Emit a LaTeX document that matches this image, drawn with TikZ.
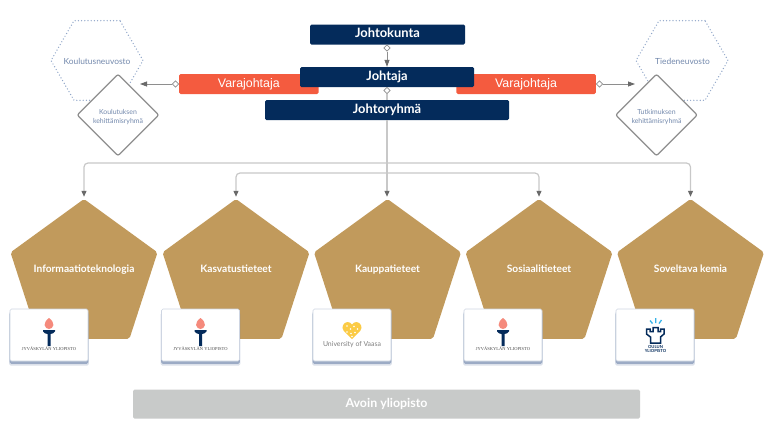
\documentclass[tikz,border=0pt]{standalone}
\usepackage{fontspec}
\setmainfont{Lato}
\newfontfamily\varafont{Liberation Sans}
\newfontfamily\logofont{Liberation Serif}
\usetikzlibrary{shapes.geometric,arrows.meta,shadows}
\definecolor{navy}{HTML}{042B5B}
\definecolor{coral}{HTML}{F45B3F}
\definecolor{tan}{HTML}{C19A5C}
\definecolor{slate}{HTML}{7288AC}
\definecolor{dotc}{HTML}{8FA5C8}
\definecolor{edge}{HTML}{8E8E8E}
\definecolor{wire}{HTML}{C8C8C8}
\definecolor{tipc}{HTML}{6A6A6A}
\definecolor{band}{HTML}{C8CAC9}
\definecolor{flame}{HTML}{F58A7C}
\definecolor{gold}{HTML}{FBCB45}
\definecolor{cyanray}{HTML}{35B2E8}
\tikzset{
  x=1pt,y=-1pt,
  navybox/.style={draw=none,fill=navy,rounded corners=1.5pt,text=white,inner sep=0pt,text height=9pt,text depth=2.5pt,font=\fontsize{12.9}{14}\selectfont\bfseries},
  varabox/.style={fill=coral,rounded corners=1.5pt,text=white,inner sep=0pt,minimum width=139.5pt,minimum height=20pt,font=\varafont\fontsize{12.4}{14}\selectfont},
  hexa/.style={regular polygon,regular polygon sides=6,minimum size=92pt,inner sep=0pt,draw=dotc,line width=1.4pt,line cap=round,dash pattern=on 0pt off 3.2pt},
  hextext/.style={text=slate,inner sep=0pt,font=\fontsize{8.4}{10}\selectfont},
  rhomb/.style={diamond,aspect=1,minimum width=82pt,minimum height=82pt,inner sep=0pt,draw=edge,fill=white,line width=1.2pt,rounded corners=2pt},
  rhombtext/.style={text=slate,inner sep=0pt,align=center,font=\fontsize{6.9}{8.3}\selectfont},
  pent/.style={regular polygon,regular polygon sides=5,minimum size=154.6pt,inner sep=0pt,fill=tan,rounded corners=2pt},
  penttext/.style={text=white,inner sep=0pt,text height=7pt,text depth=2.2pt,font=\fontsize{10.2}{12}\selectfont\bfseries},
  card/.style={fill=white,draw=slate!35,line width=.6pt,rounded corners=1.5pt,minimum width=78pt,minimum height=52pt,inner sep=0pt,
    general shadow={shadow xshift=0pt,shadow yshift=-4pt,shadow scale=1.02,fill=slate,opacity=.25},
    general shadow={shadow xshift=0pt,shadow yshift=-2.5pt,shadow scale=1.01,fill=slate,opacity=.6}},
  tick/.style={diamond,aspect=1,minimum size=6.5pt,inner sep=0pt,draw=edge,fill=white,line width=.8pt},
  hwire/.style={draw=edge,line width=.8pt,-{Triangle[length=7pt,width=5pt,fill=tipc,color=tipc]}},
  vwire/.style={draw=wire,line width=1.2pt,rounded corners=4pt,-{Triangle[length=6pt,width=5pt,fill=tipc,color=tipc]}},
  plainwire/.style={draw=wire,line width=1.2pt},
}
\newcommand{\jyulogo}[1]{%
  \begin{scope}[shift={(#1)}]
    \fill[flame] (0,-17) .. controls (3,-15) and (4.6,-12) .. (4.4,-10) .. controls (4.2,-7.5) and (2,-6) .. (0,-6) .. controls (-2,-6) and (-4.2,-7.5) .. (-4.4,-10) .. controls (-4.6,-12) and (-3,-15) .. (0,-17) -- cycle;
    \fill[navy] (-6,-5) -- (6,-5) -- (6,-3.6) .. controls (5,-2) and (3,-1) .. (1.5,-1) -- (1.5,11) -- (-1.5,11) -- (-1.5,-1) .. controls (-3,-1) and (-5,-2) .. (-6,-3.6) -- cycle;
    \node[inner sep=0pt,text=black!70,font=\logofont\fontsize{4.5}{5}\selectfont] at (0,14) {JYVÄSKYLÄN YLIOPISTO};
  \end{scope}}
\begin{document}
\begin{tikzpicture}
\useasboundingbox (0,0) rectangle (768,432);
% hexagons and rhombi
\node[hexa] (kn) at (97,60.5) {};
\node[hexa] (tn) at (682,60.5) {};
\node[hextext] (knt) at (97,61) {Koulutusneuvosto};
\node[hextext] (tnt) at (682.5,61) {Tiedeneuvosto};
\node[rhomb] (kk) at (118,115) {};
\node[rhomb] (tk) at (656.5,115) {};
\node[rhombtext] (kkt) at (118,117) {Koulutuksen\\kehittämisryhmä};
\node[rhombtext] (tkt) at (656.5,117) {Tutkimuksen\\kehittämisryhmä};
% head boxes
\node[varabox] (vl) at (248.8,84) {Varajohtaja};
\node[varabox] (vr) at (526,84) {Varajohtaja};
\node[navybox,minimum width=155pt,minimum height=20pt] (jk) at (387.5,34.5) {Johtokunta};
\node[navybox,minimum width=174pt,minimum height=20pt] (jt) at (387,77) {Johtaja};
\node[navybox,minimum width=244pt,minimum height=20pt] (jr) at (387,110) {Johtoryhmä};
% pentagons
\node[pent] (p1) at (84,276.3) {};
\node[pent] (p2) at (236,276.3) {};
\node[pent] (p3) at (387.5,276.3) {};
\node[pent] (p4) at (539,276.3) {};
\node[pent] (p5) at (690.5,276.3) {};
\node[penttext] (t1) at (84,270) {Informaatioteknologia};
\node[penttext] (t2) at (236,270) {Kasvatustieteet};
\node[penttext] (t3) at (387.5,270) {Kauppatieteet};
\node[penttext] (t4) at (539,270) {Sosiaalitieteet};
\node[penttext] (t5) at (690.5,270) {Soveltava kemia};
% cards
\node[card] (c1) at (49,335) {};
\node[card] (c2) at (200.5,335) {};
\node[card] (c3) at (352,335) {};
\node[card] (c4) at (503,335) {};
\node[card] (c5) at (655,335) {};
\jyulogo{c1}
\jyulogo{c2}
\jyulogo{c4}
% Vaasa logo
\begin{scope}[shift={(c3)}]
  \fill[gold] (0,4) -- (-8.2,-4) .. controls (-11.5,-8) and (-8,-13) .. (-4.5,-13) .. controls (-2.5,-13) and (-1,-12) .. (0,-10.5) .. controls (1,-12) and (2.5,-13) .. (4.5,-13) .. controls (8,-13) and (11.5,-8) .. (8.2,-4) -- cycle;
  \foreach \a/\b in {-5/-9,-1.5/-6,2/-8.5,5.5/-6,-5/-3,-1/-1.5,3/-2.5,0/1.5}
    \fill[white] (\a,\b) circle (.8);
  \node[inner sep=0pt,text=black!50,font=\fontsize{6.9}{8}\selectfont] at (0,10) {University of Vaasa};
\end{scope}
% Oulu logo
\begin{scope}[shift={(c5)}]
  \draw[cyanray,line width=1.3pt] (-5,-14.5) -- (-2.5,-11.5) (.8,-17) -- (.8,-12) (6.5,-15) -- (4,-11.5);
  \draw[navy,line width=1.5pt,line join=miter] (-8.5,-6) -- (-8.5,-1) -- (-4.5,2) -- (-4.5,8) -- (5.5,8) -- (5.5,2) -- (9,-1) -- (9,-6) -- (5.5,-6) -- (5.5,-3.5) -- (3,-3.5) -- (3,-7.5) -- (-2,-7.5) -- (-2,-3.5) -- (-5,-3.5) -- (-5,-6) -- cycle;
  \node[inner sep=0pt,text=navy,align=center,font=\fontsize{4.2}{4.6}\selectfont\bfseries] at (.5,14) {OULUN\\YLIOPISTO};
\end{scope}
% band
\node[fill=band,rounded corners=1.5pt,minimum width=507pt,minimum height=29pt,inner sep=0pt,text=white,font=\fontsize{12.4}{14}\selectfont\bfseries] (av) at (386.5,404) {Avoin yliopisto};
% connectors
\node[tick] (m1) at (387,48) {};
\node[tick] (m2) at (387,90.5) {};
\node[tick] (m3) at (175.5,84) {};
\node[tick] (m4) at (599.5,84) {};
\coordinate (kend) at (140,84);
\coordinate (tend) at (635,84);
\coordinate (j1) at (387,163);
\coordinate (j2) at (387,173);
\coordinate (e1) at ([yshift=2pt]p1.corner 1);
\coordinate (e2) at ([yshift=2pt]p2.corner 1);
\coordinate (e3) at ([yshift=2pt]p3.corner 1);
\coordinate (e4) at ([yshift=2pt]p4.corner 1);
\coordinate (e5) at ([yshift=2pt]p5.corner 1);
\draw[hwire] (m3) -- (kend);
\draw[hwire] (m4) -- (tend);
\draw[hwire] (m1) -- (jt.north -| m1);
\draw[plainwire] (m2) -- (jr.north -| m2);
\draw[vwire] (j1) -| (e1);
\draw[vwire] (j1) -| (e5);
\draw[vwire] (j2) -| (e2);
\draw[vwire] (j2) -| (e4);
\draw[vwire] (jr.south -| m2) -- (m2 |- e3);
\end{tikzpicture}
\end{document}
